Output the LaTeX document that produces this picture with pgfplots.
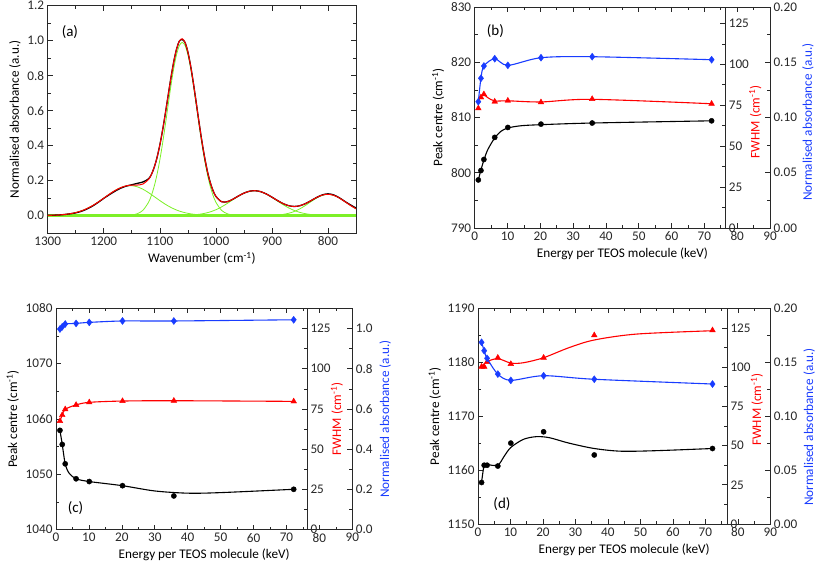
\documentclass[border=0pt]{standalone}
\usepackage{pgfplots}
\pgfplotsset{compat=1.18}
\usetikzlibrary{calc}
\usepackage{fontspec}
\setmainfont{Carlito}
\definecolor{myred}{RGB}{255,0,0}
\definecolor{myblue}{RGB}{25,60,255}
\definecolor{mygreen}{RGB}{125,240,40}
\definecolor{axgray}{RGB}{40,40,40}
\newcommand{\fs}{\fontsize{13.2}{16}\selectfont}
\newcommand{\fp}{\fontsize{15}{18}\selectfont}
\tikzset{rlab/.style={font=\fs, rotate=90, anchor=center}}
\pgfplotsset{
 base/.style={
  scale only axis, anchor=south west,
  tick align=inside,
  major tick length=5pt, minor tick length=3pt,
  every tick/.append style={line width=0.6pt, color=axgray},
  axis line style={line width=0.8pt, color=axgray},
  /pgf/number format/assume math mode=true,
  every tick label/.append style={font=\fs, color=axgray},
  every axis x label/.append style={font=\fs},
  every axis y label/.append style={font=\fs},
  scaled ticks=false,
 },
 overlay/.style={base, axis x line=none, axis y line*=right, clip=false},
 bmark/.style={only marks, mark=*, mark size=2.6pt, color=black},
 rmark/.style={only marks, mark=triangle*, mark size=3.3pt, color=myred},
 dmark/.style={only marks, mark=diamond*, mark size=3.5pt, color=myblue},
 crv/.style={no markers, smooth, tension=0.5, line width=1.1pt},
}
\begin{document}
\begin{tikzpicture}
\useasboundingbox (0pt,0pt) rectangle (816pt,568pt);

% ---------------- (a)
\begin{axis}[base, at={(47.7pt,335pt)}, width=308.3pt, height=227.3pt,
  x dir=reverse, xmin=750, xmax=1300, ymin=-0.1, ymax=1.2,
  xtick={800,900,1000,1100,1200,1300}, minor xtick={750,850,950,1050,1150,1250},
  ytick={0,0.2,0.4,0.6,0.8,1.0,1.2}, minor ytick={-0.1,0.1,0.3,0.5,0.7,0.9,1.1},
  yticklabel style={/pgf/number format/.cd, fixed, fixed zerofill, precision=1},
  xticklabel style={/pgf/number format/.cd, set thousands separator={}},
  xlabel={Wavenumber (cm\textsuperscript{-1})},
  ylabel={Normalised absorbance (a.u.)}]
\addplot[mygreen, line width=2.2pt] coordinates {(1300,0) (750,0)};
\addplot[mygreen, line width=0.8pt, smooth] coordinates {(1300,0.0008)(1290,0.0017)(1280,0.0032)(1270,0.0058)(1260,0.0101)(1250,0.0168)(1240,0.0264)(1230,0.0396)(1220,0.0565)(1210,0.0767)(1200,0.0991)(1190,0.1220)(1180,0.1428)(1170,0.1592)(1160,0.1689)(1150,0.1706)(1140,0.1640)(1130,0.1501)(1120,0.1307)(1110,0.1083)(1100,0.0855)(1090,0.0642)(1080,0.0459)(1070,0.0312)(1060,0.0202)(1050,0.0125)(1040,0.0073)(1030,0.0041)(1020,0.0022)(1010,0.0011)(1000,0.0005)(990,0.0002)};
\addplot[mygreen, line width=0.8pt, smooth] coordinates {(1160,0.0008)(1150,0.0031)(1140,0.0104)(1130,0.0302)(1120,0.0763)(1115,0.1149)(1110,0.1669)(1105,0.2341)(1100,0.3169)(1095,0.4138)(1090,0.5216)(1085,0.6344)(1080,0.7447)(1075,0.8435)(1070,0.9220)(1065,0.9726)(1060,0.99)(1055,0.9726)(1050,0.9220)(1045,0.8435)(1040,0.7447)(1035,0.6344)(1030,0.5216)(1025,0.4138)(1020,0.3169)(1015,0.2341)(1010,0.1669)(1005,0.1149)(1000,0.0763)(990,0.0302)(980,0.0104)(970,0.0031)(960,0.0008)};
\addplot[mygreen, line width=0.8pt, smooth] coordinates {(1060,0.0008)(1050,0.0018)(1040,0.0036)(1030,0.0069)(1020,0.0124)(1010,0.0208)(1000,0.0329)(990,0.0489)(980,0.0683)(970,0.0896)(960,0.1104)(950,0.1277)(940,0.1389)(930,0.1419)(920,0.1362)(910,0.1227)(900,0.1039)(890,0.0827)(880,0.0618)(870,0.0434)(860,0.0286)(850,0.0177)(840,0.0103)(830,0.0056)(820,0.0029)(810,0.0014)(800,0.0006)};
\addplot[mygreen, line width=0.8pt, smooth] coordinates {(910,0.0005)(900,0.0012)(890,0.0029)(880,0.0064)(870,0.0128)(860,0.0232)(850,0.0384)(840,0.0580)(830,0.0800)(820,0.1007)(810,0.1156)(800,0.121)(790,0.1156)(780,0.1007)(770,0.0800)(760,0.0580)(750,0.0384)};
\addplot[black, line width=1.3pt, smooth] coordinates {(1300,0.001)(1290,0.0017)(1280,0.0032)(1270,0.0058)(1260,0.0098)(1250,0.015)(1240,0.024)(1230,0.037)(1220,0.054)(1210,0.075)(1200,0.098)(1190,0.119)(1180,0.139)(1170,0.156)(1160,0.168)(1150,0.176)(1140,0.184)(1130,0.192)(1120,0.210)(1115,0.2346)(1110,0.2752)(1105,0.3309)(1100,0.4024)(1095,0.4883)(1090,0.5858)(1085,0.6890)(1080,0.7906)(1075,0.8816)(1070,0.9532)(1065,0.9979)(1060,1.0060)(1055,0.9899)(1050,0.9363)(1045,0.8557)(1040,0.7556)(1035,0.6449)(1030,0.5326)(1025,0.4261)(1020,0.3315)(1015,0.2518)(1010,0.1888)(1005,0.1421)(1000,0.1097)(990,0.0793)(980,0.0787)(970,0.0927)(960,0.1112)(950,0.1279)(940,0.1389)(930,0.1419)(920,0.1364)(910,0.1232)(900,0.1051)(890,0.0856)(880,0.0682)(870,0.0562)(860,0.0518)(850,0.0561)(840,0.0683)(830,0.0856)(820,0.1036)(810,0.1180)(800,0.124)(790,0.118)(780,0.1020)(770,0.0810)(760,0.061)(750,0.043)};
\addplot[myred, line width=1.0pt, smooth] coordinates {(1300,0.001)(1290,0.0017)(1280,0.0032)(1270,0.0058)(1260,0.0101)(1250,0.0168)(1240,0.0264)(1230,0.0396)(1220,0.0565)(1210,0.0767)(1200,0.0991)(1190,0.1220)(1180,0.1428)(1170,0.1592)(1160,0.1697)(1150,0.1737)(1140,0.1744)(1130,0.1803)(1120,0.2070)(1115,0.2346)(1110,0.2752)(1105,0.3309)(1100,0.4024)(1095,0.4883)(1090,0.5858)(1085,0.6890)(1080,0.7906)(1075,0.8816)(1070,0.9532)(1065,0.9979)(1060,1.0110)(1055,0.9899)(1050,0.9363)(1045,0.8557)(1040,0.7556)(1035,0.6449)(1030,0.5326)(1025,0.4261)(1020,0.3315)(1015,0.2518)(1010,0.1888)(1005,0.1421)(1000,0.1097)(990,0.0793)(980,0.0787)(970,0.0927)(960,0.1112)(950,0.1279)(940,0.1389)(930,0.1419)(920,0.1364)(910,0.1232)(900,0.1051)(890,0.0856)(880,0.0682)(870,0.0562)(860,0.0518)(850,0.0561)(840,0.0683)(830,0.0856)(820,0.1036)(810,0.1170)(800,0.1216)(790,0.1159)(780,0.1007)(770,0.0800)(760,0.0580)(750,0.0384)};
\node[font=\fp] at (rel axis cs:0.072,0.882) {(a)};
\end{axis}

% ---------------- (b)
\begin{axis}[base, at={(474.7pt,340pt)}, width=295.3pt, height=221pt,
  xmin=0, xmax=90, ymin=790, ymax=830,
  xtick={0,10,...,90}, minor x tick num=1,
  ytick={790,800,810,820,830}, minor y tick num=1, ytick pos=left,
  xlabel={Energy per TEOS molecule (keV)},
  ylabel={Peak centre (cm\textsuperscript{-1})}]
\addplot[crv, black] coordinates {(1.1,798.7)(1.9,800.5)(2.8,802.3)(4,804.2)(6.1,806.3)(8,807.5)(10.1,808.1)(14,808.5)(20.2,808.7)(35.8,809.0)(72.2,809.4)};
\addplot[bmark] coordinates {(1.1,798.7)(1.9,800.4)(2.8,802.4)(6.1,806.4)(10.1,808.2)(20.2,808.8)(35.8,809.0)(72.2,809.4)};
\node[font=\fp] at (rel axis cs:0.07,0.89) {(b)};
\end{axis}
\begin{axis}[overlay, at={(474.7pt,340pt)}, width=250.6pt, height=221pt,
  xmin=0, xmax=76.38, ymin=0, ymax=135,
  ytick={0,25,50,75,100,125}, minor y tick num=1]
\addplot[crv, myred] coordinates {(1.0,77.0)(1.9,80.5)(2.8,81.4)(4,79.6)(6.1,77.6)(10.1,77.7)(20.2,77.0)(35.8,78.6)(72.2,75.9)};
\addplot[rmark] coordinates {(1.1,73.1)(1.9,79.8)(2.8,81.7)(6.1,77.2)(10.1,77.8)(20.2,76.8)(35.8,78.8)(72.2,75.9)};
\node[rlab, color=myred] at ($(rel axis cs:1,0.48)+(30pt,0pt)$) {FWHM (cm\textsuperscript{-1})};
\end{axis}
\begin{axis}[overlay, at={(474.7pt,340pt)}, width=295.3pt, height=221pt,
  xmin=0, xmax=90, ymin=0, ymax=0.2,
  ytick={0,0.05,0.1,0.15,0.2}, minor y tick num=1,
  yticklabel style={/pgf/number format/.cd, fixed, fixed zerofill, precision=2}]
\addplot[crv, myblue] coordinates {(1.1,0.1143)(1.9,0.1355)(2.8,0.1466)(6.1,0.1532)(10.1,0.1472)(20.2,0.1541)(35.8,0.1550)(72.2,0.1523)};
\addplot[dmark] coordinates {(1.1,0.1143)(1.9,0.1355)(2.8,0.1466)(6.1,0.1532)(10.1,0.1472)(20.2,0.1541)(35.8,0.1550)(72.2,0.1523)};
\node[rlab, color=myblue] at ($(rel axis cs:1,0.48)+(38pt,0pt)$) {Normalised absorbance (a.u.)};
\end{axis}

% ---------------- (c)
\begin{axis}[base, at={(56pt,38.3pt)}, width=296.3pt, height=221.4pt,
  xmin=0, xmax=90, ymin=1040, ymax=1080,
  xtick={0,10,...,90}, minor x tick num=1,
  ytick={1040,1050,1060,1070,1080}, minor y tick num=1, ytick pos=left,
  yticklabel style={/pgf/number format/.cd, set thousands separator={}},
  xlabel={Energy per TEOS molecule (keV)},
  ylabel={Peak centre (cm\textsuperscript{-1})}]
\addplot[crv, black] coordinates {(1.2,1057.95)(1.9,1055.4)(2.8,1051.9)(4,1050.2)(6.1,1049.2)(10.1,1048.7)(20.2,1047.95)(30,1047.0)(40,1046.6)(50,1046.7)(72.2,1047.3)};
\addplot[bmark] coordinates {(1.2,1057.95)(1.9,1055.4)(2.8,1051.9)(6.1,1049.2)(10.1,1048.7)(20.2,1047.95)(35.8,1046.1)(72.2,1047.3)};
\node[font=\fp] at (rel axis cs:0.066,0.10) {(c)};
\end{axis}
\begin{axis}[overlay, at={(56pt,38.3pt)}, width=251pt, height=221.4pt,
  xmin=0, xmax=76.24, ymin=0, ymax=137.5,
  ytick={0,25,50,75,100,125}, minor y tick num=1]
\addplot[crv, myred] coordinates {(1.2,67.5)(1.9,71.2)(2.8,74.8)(6.1,77.5)(10.1,79.1)(20.2,79.9)(35.8,80.1)(72.2,79.7)};
\addplot[rmark] coordinates {(1.2,67.5)(1.9,71.2)(2.8,74.8)(6.1,77.5)(10.1,79.1)(20.2,79.9)(35.8,80.1)(72.2,79.7)};
\node[rlab, color=myred] at ($(rel axis cs:1,0.5)+(30pt,0pt)$) {FWHM (cm\textsuperscript{-1})};
\end{axis}
\begin{axis}[overlay, at={(56pt,38.3pt)}, width=296.3pt, height=221.4pt,
  xmin=0, xmax=90, ymin=0, ymax=1.1,
  ytick={0,0.2,0.4,0.6,0.8,1.0}, minor y tick num=1,
  yticklabel style={/pgf/number format/.cd, fixed, fixed zerofill, precision=1}]
\addplot[crv, myblue] coordinates {(1.2,0.997)(1.9,1.008)(2.8,1.022)(6.1,1.025)(10.1,1.030)(20.2,1.037)(35.8,1.037)(72.2,1.043)};
\addplot[dmark] coordinates {(1.2,0.997)(1.9,1.008)(2.8,1.022)(6.1,1.025)(10.1,1.030)(20.2,1.037)(35.8,1.037)(72.2,1.043)};
\node[rlab, color=myblue] at ($(rel axis cs:1,0.5)+(33pt,0pt)$) {Normalised absorbance (a.u.)};
\end{axis}

% ---------------- (d)
\begin{axis}[base, at={(478pt,44pt)}, width=292.3pt, height=215.7pt,
  xmin=0, xmax=90, ymin=1150, ymax=1190,
  xtick={0,10,...,90}, minor x tick num=1,
  ytick={1150,1160,1170,1180,1190}, minor y tick num=1, ytick pos=left,
  yticklabel style={/pgf/number format/.cd, set thousands separator={}},
  xlabel={Energy per TEOS molecule (keV)},
  ylabel={Peak centre (cm\textsuperscript{-1})}]
\addplot[crv, black] coordinates {(1.1,1157.7)(1.9,1160.9)(3,1161.0)(6.1,1160.9)(8,1162.5)(10.1,1164.2)(14,1165.7)(18,1166.2)(22,1166.0)(28,1165.0)(35.8,1164.0)(44,1163.5)(55,1163.6)(72.2,1164.0)};
\addplot[bmark] coordinates {(1.1,1157.7)(1.9,1160.9)(2.8,1160.9)(6.1,1160.75)(10.1,1165.0)(20.2,1167.1)(35.8,1162.8)(72.2,1164.0)};
\node[font=\fp] at (rel axis cs:0.082,0.093) {(d)};
\end{axis}
\begin{axis}[overlay, at={(478pt,44pt)}, width=249pt, height=215.7pt,
  xmin=0, xmax=76.67, ymin=0, ymax=137.5,
  ytick={0,25,50,75,100,125}, minor y tick num=1]
\addplot[crv, myred] coordinates {(1.1,100.3)(2.8,103.5)(6.1,105.4)(10.1,102.6)(14,102.8)(20.2,106)(28,112.4)(35.8,117.3)(49,121.1)(72.2,123.2)};
\addplot[rmark] coordinates {(1.1,100.3)(1.9,100.3)(2.8,103.3)(6.1,106.0)(10.1,102.0)(20.2,106.0)(35.8,120.3)(72.2,123.5)};
\node[rlab, color=myred] at ($(rel axis cs:1,0.53)+(30pt,0pt)$) {FWHM (cm\textsuperscript{-1})};
\end{axis}
\begin{axis}[overlay, at={(478pt,44pt)}, width=292.3pt, height=215.7pt,
  xmin=0, xmax=90, ymin=0, ymax=0.2,
  ytick={0,0.05,0.1,0.15,0.2}, minor y tick num=1,
  yticklabel style={/pgf/number format/.cd, fixed, fixed zerofill, precision=2}]
\addplot[crv, myblue] coordinates {(1.1,0.1685)(1.9,0.1607)(2.8,0.1536)(6.1,0.139)(10.1,0.1332)(20.2,0.1375)(35.8,0.1342)(72.2,0.1298)};
\addplot[dmark] coordinates {(1.1,0.1685)(1.9,0.1607)(2.8,0.1536)(6.1,0.139)(10.1,0.1332)(20.2,0.1375)(35.8,0.1342)(72.2,0.1298)};
\node[rlab, color=myblue] at ($(rel axis cs:1,0.45)+(39pt,0pt)$) {Normalised absorbance (a.u.)};
\end{axis}
\end{tikzpicture}
\end{document}
